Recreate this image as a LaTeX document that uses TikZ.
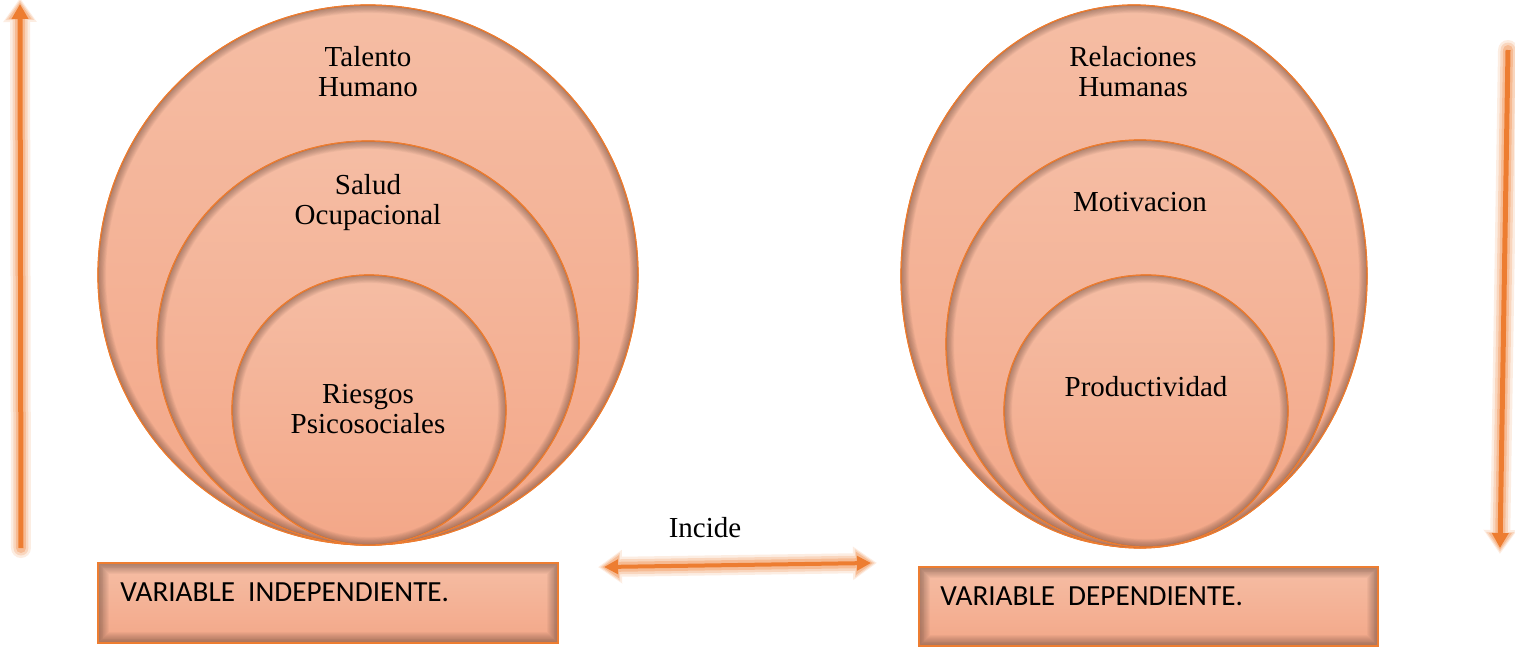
\documentclass[tikz,border=0pt]{standalone}
\usepackage{fontspec}
\setmainfont{Liberation Serif}
\newfontfamily\boxfont{Carlito}
\usetikzlibrary{shapes.geometric,arrows.meta}

\definecolor{edge}{HTML}{ED7D31}
\definecolor{peachtop}{HTML}{F5BDA4}
\definecolor{peachbot}{HTML}{F3A788}
\definecolor{shadecol}{HTML}{5E4034}

\tikzset{
  ring/.style={ellipse, inner sep=0pt, draw=edge, line width=0.6pt,
    top color=peachtop, bottom color=peachbot},
  vbox/.style={rectangle, inner sep=0pt,
    top color=peachtop, bottom color=peachbot},
  ringtext/.style={align=center, font=\fontsize{14.5}{15}\selectfont},
  boxtext/.style={font=\boxfont\fontsize{14.6}{16}\selectfont, inner sep=0pt},
}

% narrow dark rim along the inside of an ellipse
\newcommand\innershade[3]{%
  \begin{scope}
    \clip #1 ellipse (#2 and #3);
    \foreach \w in {1,...,10}{
      \draw[shadecol, line width=0.8pt*\w, opacity=0.055] #1 ellipse (#2 and #3);}
  \end{scope}
  \draw[edge, line width=0.6pt] #1 ellipse (#2 and #3);}

% dark rim along the inside of a rectangle
\newcommand\boxshade[2]{%
  \begin{scope}
    \clip #1 rectangle #2;
    \foreach \w in {1,...,12}{
      \draw[shadecol, line width=0.9pt*\w, opacity=0.05] #1 rectangle #2;}
  \end{scope}
  \draw[edge, line width=0.7pt] #1 rectangle #2;}

\begin{document}
\begin{tikzpicture}[x=0.5pt, y=-0.5pt]
\useasboundingbox (0,0) rectangle (1515,648);

% ---- independent variable: nested circles ----
\node[ring, minimum width=270pt, minimum height=270pt] (talento) at (368,275) {};
\innershade{(368,275)}{270}{270}
\node[ring, minimum width=211pt, minimum height=202pt] (salud) at (368,343) {};
\innershade{(368,343)}{211}{202}
\node[ring, minimum width=137pt, minimum height=135pt] (riesgos) at (369,410) {};
\innershade{(369,410)}{137}{135}

\node[ringtext] (talentotxt) at (368,72) {Talento\\Humano};
\node[ringtext] (saludtxt) at (368,203) {Salud\\Ocupacional};
\node[ringtext] (riesgostxt) at (368,409) {Riesgos\\Psicosociales};

% ---- dependent variable: nested circles ----
\node[ring, minimum width=233pt, minimum height=271pt] (relaciones) at (1134,276) {};
\innershade{(1134,276)}{233}{271}
\node[ring, minimum width=194pt, minimum height=204pt] (motivacion) at (1140,344) {};
\innershade{(1140,344)}{194}{204}
\node[ring, minimum width=142pt, minimum height=136pt] (productividad) at (1146,411) {};
\innershade{(1146,411)}{142}{136}

\node[ringtext] (relacionestxt) at (1133,72) {Relaciones\\Humanas};
\node[ringtext] (motivaciontxt) at (1140,202) {Motivacion};
\node[ringtext] (productividadtxt) at (1146,387) {Productividad};

% ---- variable labels ----
\node[vbox, minimum width=230pt, minimum height=40pt, anchor=north west] (indep) at (98,563) {};
\boxshade{(98,563)}{(558,643)}
\node[boxtext, anchor=base west] (indeptxt) at (120,601) {VARIABLE\ \ INDEPENDIENTE.};

\node[vbox, minimum width=229.5pt, minimum height=39.5pt, anchor=north west] (dep) at (919,567) {};
\boxshade{(919,567)}{(1378,646)}
\node[boxtext, anchor=base west] (deptxt) at (940,605) {VARIABLE\ \ DEPENDIENTE.};

% ---- arrows ----
\coordinate (lbot) at (21,548);
\coordinate (ltop) at (20,4);
\coordinate (rtop) at (1508,50);
\coordinate (rbot) at (1500,548);
\coordinate (hleft) at (604,567);
\coordinate (hright) at (871,563);

\node[ringtext] (incide) at (705,528) {Incide};

% glow beneath the arrows
\foreach \lw/\op/\tl/\tw/\sh in {10pt/0.14/12pt/16pt/-3pt, 7.5pt/0.2/10pt/13.5pt/-2pt, 5pt/0.3/8.5pt/11pt/-1pt}{
  \begin{scope}[transparency group, opacity=\op]
    \draw[edge, line width=\lw, line cap=round, shorten >=\sh,
      -{Triangle[length=\tl,width=\tw]}] (lbot) -- (ltop);
    \draw[edge, line width=\lw, line cap=round, shorten >=\sh,
      -{Triangle[length=\tl,width=\tw]}] (rtop) -- (rbot);
    \draw[edge, line width=\lw, line cap=round, shorten >=\sh, shorten <=\sh,
      {Triangle[length=\tl,width=\tw]}-{Triangle[length=\tl,width=\tw]}] (hleft) -- (hright);
  \end{scope}}

\draw[edge, line width=2.5pt, -{Triangle[length=7.5pt,width=8pt]}] (lbot) -- (ltop);
\draw[edge, line width=2.5pt, -{Triangle[length=7.5pt,width=8pt]}] (rtop) -- (rbot);
\draw[edge, line width=2pt, {Triangle[length=7pt,width=7pt]}-{Triangle[length=7pt,width=7pt]}] (hleft) -- (hright);

\end{tikzpicture}
\end{document}
